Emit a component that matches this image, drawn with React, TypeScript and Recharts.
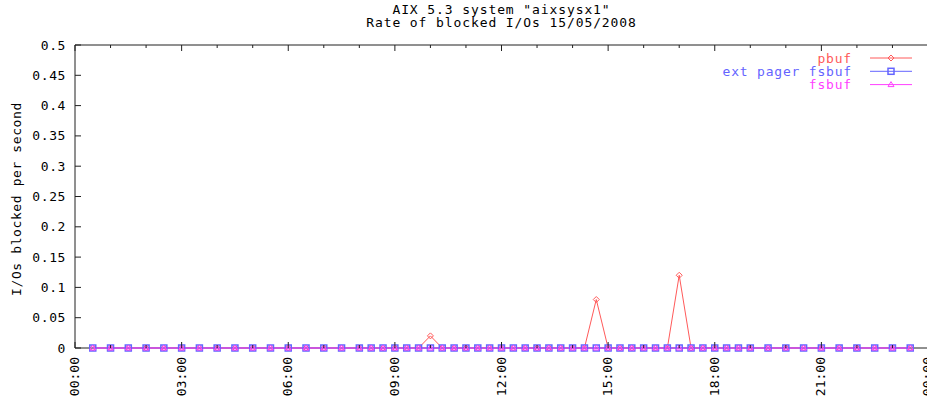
import { LineChart, Line, XAxis, YAxis, CartesianGrid } from "recharts";

// sample times (hh:mm) for 15/05/2008
const times = [
  "00:30", "01:00", "01:30", "02:00", "02:30", "03:00", "03:30", "04:00",
  "04:30", "05:00", "05:30", "06:00", "06:30", "07:00", "07:30", "08:00",
  "08:20", "08:40", "09:00", "09:20", "09:40", "10:00", "10:20", "10:40",
  "11:00", "11:20", "11:40", "12:00", "12:20", "12:40", "13:00", "13:20",
  "13:40", "14:00", "14:20", "14:40", "15:00", "15:20", "15:40", "16:00",
  "16:20", "16:40", "17:00", "17:20", "17:40", "18:00", "18:20", "18:40",
  "19:00", "19:30", "20:00", "20:30", "21:00", "21:30", "22:00", "22:30",
  "23:00", "23:30",
];

const pbuf = [
  0, 0, 0, 0, 0, 0, 0, 0,
  0, 0, 0, 0, 0, 0, 0, 0,
  0, 0, 0, 0, 0, 0.02, 0, 0,
  0, 0, 0, 0, 0, 0, 0, 0,
  0, 0, 0, 0.08, 0, 0, 0, 0,
  0, 0, 0.12, 0, 0, 0, 0, 0,
  0, 0, 0, 0, 0, 0, 0, 0,
  0, 0,
];

const extPagerFsbuf = [
  0, 0, 0, 0, 0, 0, 0, 0,
  0, 0, 0, 0, 0, 0, 0, 0,
  0, 0, 0, 0, 0, 0, 0, 0,
  0, 0, 0, 0, 0, 0, 0, 0,
  0, 0, 0, 0, 0, 0, 0, 0,
  0, 0, 0, 0, 0, 0, 0, 0,
  0, 0, 0, 0, 0, 0, 0, 0,
  0, 0,
];

const fsbuf = [
  0, 0, 0, 0, 0, 0, 0, 0,
  0, 0, 0, 0, 0, 0, 0, 0,
  0, 0, 0, 0, 0, 0, 0, 0,
  0, 0, 0, 0, 0, 0, 0, 0,
  0, 0, 0, 0, 0, 0, 0, 0,
  0, 0, 0, 0, 0, 0, 0, 0,
  0, 0, 0, 0, 0, 0, 0, 0,
  0, 0,
];

const hourTicks = [0, 1, 2, 3, 4, 5, 6, 7, 8, 9, 10, 11, 12, 13, 14, 15, 16, 17, 18, 19, 20, 21, 22, 23, 24];
const rateTicks = [0, 0.05, 0.1, 0.15, 0.2, 0.25, 0.3, 0.35, 0.4, 0.45, 0.5];

const FONT = "'DejaVu Sans Mono', 'Liberation Mono', monospace";
const RED = "#ff5a5a";
const BLUE = "#6464ff";
const MAGENTA = "#ff40ff";
const AXIS = "#202020";

const toHours = (t: string) => {
  const [h, m] = t.split(":").map(Number);
  return h + m / 60;
};

const data = times.map((t, i) => ({
  t: toHours(t),
  pbuf: pbuf[i],
  ext: extPagerFsbuf[i],
  fsbuf: fsbuf[i],
}));

const hourLabel = (h: number) => String(h % 24).padStart(2, "0") + ":00";

function Diamond({ cx, cy, color = RED }: any) {
  if (cx == null || cy == null) return null;
  return (
    <path
      d={`M${cx},${cy - 3} L${cx + 3},${cy} L${cx},${cy + 3} L${cx - 3},${cy} Z`}
      fill="none"
      stroke={color}
      strokeWidth={1}
    />
  );
}

function Square({ cx, cy, color = BLUE }: any) {
  if (cx == null || cy == null) return null;
  return <rect x={cx - 3} y={cy - 3} width={6} height={6} fill="none" stroke={color} strokeWidth={1.5} />;
}

function Triangle({ cx, cy, color = MAGENTA }: any) {
  if (cx == null || cy == null) return null;
  return (
    <path
      d={`M${cx},${cy - 3} L${cx + 3},${cy + 2} L${cx - 3},${cy + 2} Z`}
      fill="none"
      stroke={color}
      strokeWidth={1}
    />
  );
}

// gnuplot style: ticks point inwards
function BottomTick({ x, y, payload }: any) {
  const major = payload.value % 3 === 0;
  return (
    <g>
      <line x1={x} x2={x} y1={y} y2={y - (major ? 6 : 3)} stroke={AXIS} />
      {major && (
        <text
          transform={`translate(${x + 4},${y + 9}) rotate(-90)`}
          textAnchor="end"
          fontFamily={FONT}
          fontSize={13}
          fill="#000"
        >
          {hourLabel(payload.value)}
        </text>
      )}
    </g>
  );
}

function TopTick({ x, y, payload }: any) {
  const major = payload.value % 3 === 0;
  return <line x1={x} x2={x} y1={y} y2={y + (major ? 6 : 3)} stroke={AXIS} />;
}

function LeftTick({ x, y, payload }: any) {
  return (
    <g>
      <line x1={x} x2={x + 6} y1={y} y2={y} stroke={AXIS} />
      <text
        x={x - 9}
        y={y}
        dy="0.35em"
        textAnchor="end"
        fontFamily={FONT}
        fontSize={13}
        letterSpacing={0.6}
        fill="#000"
      >
        {String(payload.value)}
      </text>
    </g>
  );
}

function RightTick({ x, y }: any) {
  return <line x1={x} x2={x - 6} y1={y} y2={y} stroke={AXIS} />;
}

const legendRows = [
  { name: "pbuf", color: RED, Marker: Diamond },
  { name: "ext pager fsbuf", color: BLUE, Marker: Square },
  { name: "fsbuf", color: MAGENTA, Marker: Triangle },
];

export default function App() {
  const titleLine = (text: string, top: number) => (
    <div
      style={{
        position: "absolute",
        left: 75,
        width: 853,
        top,
        textAlign: "center",
        fontSize: 13,
        lineHeight: "12px",
        letterSpacing: "0.9px",
        color: "#000",
        whiteSpace: "pre",
      }}
    >
      {text}
    </div>
  );

  return (
    <div
      style={{
        position: "absolute",
        left: 0,
        top: 0,
        width: 927,
        height: 404,
        overflow: "hidden",
        background: "#fff",
        fontFamily: FONT,
      }}
    >
      {titleLine('AIX 5.3 system "aixsysx1"', 4)}
      {titleLine("Rate of blocked I/Os 15/05/2008", 17)}

      <LineChart width={940} height={404} data={data} margin={{ top: 0, right: 0, bottom: 0, left: 0 }}>
        {/* bottom frame edge sits under the series, like gnuplot */}
        <CartesianGrid vertical={false} horizontalValues={[0]} stroke={AXIS} strokeDasharray="" />
        <XAxis
          dataKey="t"
          type="number"
          domain={[0, 24]}
          ticks={hourTicks}
          interval={0}
          height={56}
          tickSize={0}
          tickMargin={0}
          tick={<BottomTick />}
          axisLine={false}
        />
        <XAxis
          xAxisId="top"
          orientation="top"
          dataKey="t"
          type="number"
          domain={[0, 24]}
          ticks={hourTicks}
          interval={0}
          height={45}
          tickSize={0}
          tickMargin={0}
          tick={<TopTick />}
          axisLine={{ stroke: AXIS }}
        />
        <YAxis
          type="number"
          domain={[0, 0.5]}
          ticks={rateTicks}
          interval={0}
          width={75}
          tickSize={0}
          tickMargin={0}
          tick={<LeftTick />}
          axisLine={{ stroke: AXIS }}
        />
        <YAxis
          yAxisId="right"
          orientation="right"
          type="number"
          domain={[0, 0.5]}
          ticks={rateTicks}
          interval={0}
          width={12}
          tickSize={0}
          tickMargin={0}
          tick={<RightTick />}
          axisLine={{ stroke: AXIS }}
        />
        <Line
          dataKey="pbuf"
          type="linear"
          stroke={RED}
          strokeWidth={1}
          dot={(p: any) => <Diamond key={"d" + p.index} cx={p.cx} cy={p.cy} />}
          activeDot={false}
          isAnimationActive={false}
        />
        <Line
          dataKey="ext"
          type="linear"
          stroke={BLUE}
          strokeWidth={1}
          dot={(p: any) => <Square key={"s" + p.index} cx={p.cx} cy={p.cy} />}
          activeDot={false}
          isAnimationActive={false}
        />
        <Line
          dataKey="fsbuf"
          type="linear"
          stroke={MAGENTA}
          strokeWidth={1}
          dot={(p: any) => <Triangle key={"t" + p.index} cx={p.cx} cy={p.cy} />}
          activeDot={false}
          isAnimationActive={false}
        />
      </LineChart>

      <div style={{ position: "absolute", left: 16, top: 199, width: 0, height: 0 }}>
        <div
          style={{
            position: "absolute",
            left: 0,
            top: 0,
            transform: "translate(-50%, -50%) rotate(-90deg)",
            fontSize: 13,
            lineHeight: "13px",
            letterSpacing: "0.6px",
            whiteSpace: "pre",
            color: "#000",
          }}
        >
          I/Os blocked per second
        </div>
      </div>

      <svg
        width={927}
        height={404}
        style={{ position: "absolute", left: 0, top: 0, pointerEvents: "none" }}
      >
        {legendRows.map((r, i) => {
          const y = 58 + i * 13.3;
          const M = r.Marker;
          return (
            <g key={r.name}>
              <text
                x={852}
                y={y}
                dy="0.35em"
                textAnchor="end"
                fontFamily={FONT}
                fontSize={13}
                letterSpacing={0.8}
                fill={r.color}
              >
                {r.name}
              </text>
              <line x1={870} x2={912} y1={y} y2={y} stroke={r.color} strokeWidth={1} />
              <M cx={891} cy={y} color={r.color} />
            </g>
          );
        })}
      </svg>
    </div>
  );
}
